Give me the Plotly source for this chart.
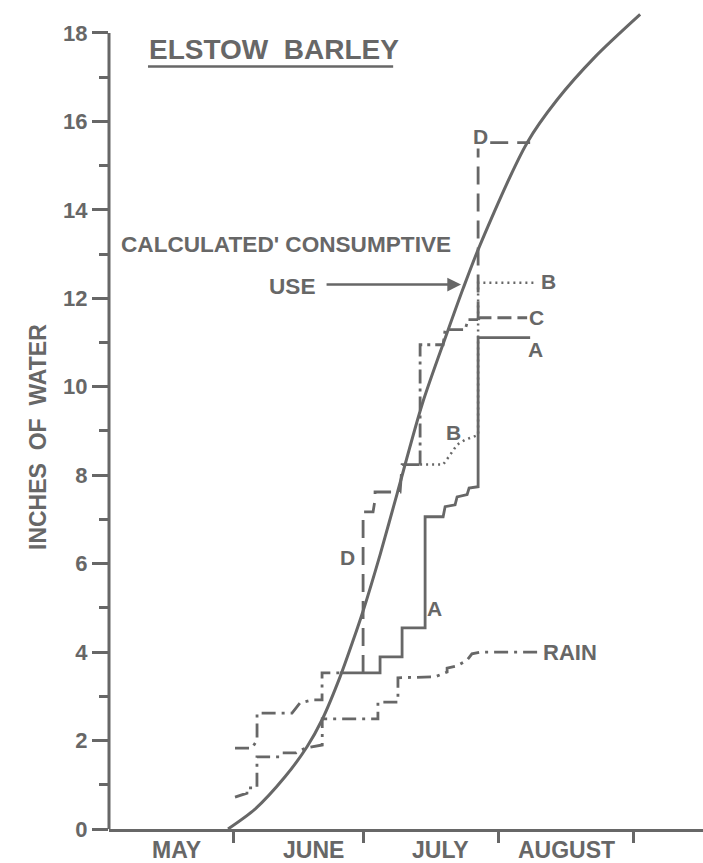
import plotly.graph_objects as go

# ---------------- data (x = day counted from 1 May, y = inches of water) -------------
months = ["MAY", "JUNE", "JULY", "AUGUST"]
month_mid = [18.1, 49.6, 78.6, 107.6]
month_bounds = [31, 61, 92, 123]
y_ticks = [0, 2, 4, 6, 8, 10, 12, 14, 16, 18]
y_minor = [1, 3, 5, 7, 9, 11, 13, 15, 17]

# calculated consumptive use (smooth curve)
cu_day = [29.85, 36.06, 42.95, 48.01, 51.46, 55.6, 58.59, 60.89, 64.79, 68.7,
          74.45, 80.2, 83.87, 87.78, 98.59, 105.48, 114.2, 124.56]
cu_in = [0.0, 0.45, 1.18, 1.86, 2.47, 3.44, 4.26, 4.93, 6.2, 7.58,
         9.6, 11.22, 12.22, 13.21, 15.52, 16.49, 17.46, 18.42]

# cumulative rain
rain_day = [31.46, 34.2, 34.2, 36.5, 36.5, 41.8, 42.3, 45.5, 47.6, 51.5, 51.5, 64.3,
            64.3, 68.9, 68.9, 77.4, 80.2, 80.2, 82.5, 84.8, 85.9, 87.8, 100.9]
rain_in = [0.72, 0.81, 0.93, 0.93, 1.63, 1.63, 1.72, 1.72, 1.83, 1.9, 2.49, 2.49,
           2.87, 2.87, 3.42, 3.44, 3.55, 3.64, 3.69, 3.82, 3.96, 4.0, 4.0]

# common early part of the treatment lines
base_day = [31.46, 35.37, 36.52, 36.52, 44.56, 46.4, 49.16, 51.46, 51.46, 56.75]
base_in = [1.83, 1.83, 2.01, 2.62, 2.62, 2.85, 2.92, 2.92, 3.53, 3.53]

# treatment A (solid)
a_day = [55.6, 64.79, 64.79, 69.85, 69.85, 75.14, 75.14, 79.28, 79.74, 82.03, 82.49,
         84.79, 85.25, 87.32, 87.32, 99.28]
a_in = [3.53, 3.53, 3.89, 3.89, 4.55, 4.55, 7.06, 7.06, 7.29, 7.33, 7.51,
        7.56, 7.71, 7.74, 11.11, 11.11]

# shared part of B, C, D
bcd_day = [60.89, 60.89, 63.18, 63.64, 63.64, 69.39, 69.85, 73.99]
bcd_in = [3.53, 7.17, 7.17, 7.45, 7.62, 7.62, 8.24, 8.24]

# treatment B (dotted)
b_day = [73.99, 79.28, 80.89, 82.49, 84.33, 86.17, 87.32, 87.32, 100.89]
b_in = [8.24, 8.24, 8.46, 8.69, 8.8, 8.87, 8.91, 12.35, 12.35]

# shared part of C and D
cd_day = [73.99, 73.99, 79.28, 79.74, 84.33, 85.02, 87.32]
cd_in = [8.24, 10.95, 10.95, 11.29, 11.29, 11.52, 11.52]

# treatment C
c_day = [87.32, 87.78, 98.59]
c_in = [11.52, 11.56, 11.56]

# treatment D
d_day = [87.32, 87.32, 99.28]
d_in = [11.52, 15.52, 15.52]

GRAY = "#676767"
FONT = "Liberation Sans"

fig = go.Figure()


def add_line(xs, ys, dash="solid", width=2.8, shape="linear", smoothing=None):
    ln = dict(color=GRAY, width=width, dash=dash, shape=shape)
    if smoothing is not None:
        ln["smoothing"] = smoothing
    fig.add_trace(go.Scatter(x=xs, y=ys, mode="lines", hoverinfo="skip", line=ln))


add_line(cu_day, cu_in, width=3, shape="spline", smoothing=0.8)
add_line(rain_day, rain_in, dash="14px,6px,3px,6px")
add_line(base_day, base_in, dash="14px,6px,3px,6px")
add_line(a_day, a_in)
add_line(bcd_day, bcd_in, dash="18px,9px")
add_line(b_day, b_in, dash="2px,4px", width=2.5)
add_line(cd_day, cd_in, dash="14px,5px,3px,5px")
add_line(c_day, c_in, dash="14px,6px")
add_line(d_day, d_in, dash="18px,9px")


def txt(x, y, s, size=22, xanchor="center", bg=None, **kw):
    fig.add_annotation(x=x, y=y, text="<b>" + s + "</b>", showarrow=False,
                       xanchor=xanchor, yanchor="middle",
                       font=dict(family=FONT, size=size, color=GRAY),
                       bgcolor=bg, borderpad=0, **kw)


# title with underline
txt(11.46, 17.62, "ELSTOW  BARLEY", size=28, xanchor="left")
fig.add_shape(type="line", x0=11.46, x1=67.8, y0=17.24, y1=17.24,
              line=dict(color=GRAY, width=2.5))

txt(5.0, 13.21, "CALCULATED' CONSUMPTIVE", size=22.6, xanchor="left")
txt(39.05, 12.26, "USE", size=22.6, xanchor="left")
fig.add_annotation(x=83.4, y=12.31, ax=52.15, ay=12.31, axref="x", ayref="y",
                   showarrow=True, arrowhead=2, arrowsize=1.1, arrowwidth=2.5,
                   arrowcolor=GRAY, text="")

txt(87.78, 15.66, "D", size=21, bg="white")
txt(101.6, 12.38, "B", size=21, xanchor="left")
txt(98.8, 11.56, "C", size=21, xanchor="left", bg="white")
txt(98.6, 10.84, "A", size=21, xanchor="left")
txt(81.6, 8.96, "B", size=21)
txt(77.4, 4.98, "A", size=21)
txt(57.4, 6.13, "D", size=21)
txt(102.0, 4.0, "RAIN", size=22, xanchor="left")

for m, xm in zip(months, month_mid):
    fig.add_annotation(x=xm, yref="paper", y=-0.025, text="<b>" + m + "</b>",
                       showarrow=False, xanchor="center", yanchor="middle",
                       font=dict(family=FONT, size=23, color=GRAY))

fig.add_annotation(xref="paper", x=-0.146, y=8.87, text="<b>INCHES  OF  WATER</b>",
                   showarrow=False, textangle=-90,
                   font=dict(family=FONT, size=23, color=GRAY))

# y axis line from 0 to 18
fig.add_shape(type="line", xref="paper", x0=0, x1=0, y0=0, y1=18,
              line=dict(color=GRAY, width=3))

fig.update_layout(
    width=703, height=863,
    margin=dict(l=109, r=0, t=2, b=34),
    paper_bgcolor="white", plot_bgcolor="white",
    showlegend=False,
    xaxis=dict(range=[2.5, 139.0], showgrid=False, zeroline=False,
               showline=True, linecolor=GRAY, linewidth=3,
               tickvals=month_bounds, ticks="outside", ticklen=11, tickwidth=3,
               tickcolor=GRAY, showticklabels=False),
    yaxis=dict(range=[0, 18.7], showgrid=False, zeroline=False, showline=False,
               tickvals=y_ticks, ticktext=["<b>%d</b>" % v for v in y_ticks],
               ticks="outside", ticklen=16, tickwidth=2.5, tickcolor=GRAY,
               tickfont=dict(family=FONT, size=22, color=GRAY),
               minor=dict(tickvals=y_minor, ticks="outside", ticklen=9,
                          tickwidth=2.5, tickcolor=GRAY)),
)

fig.write_html("out.html")
